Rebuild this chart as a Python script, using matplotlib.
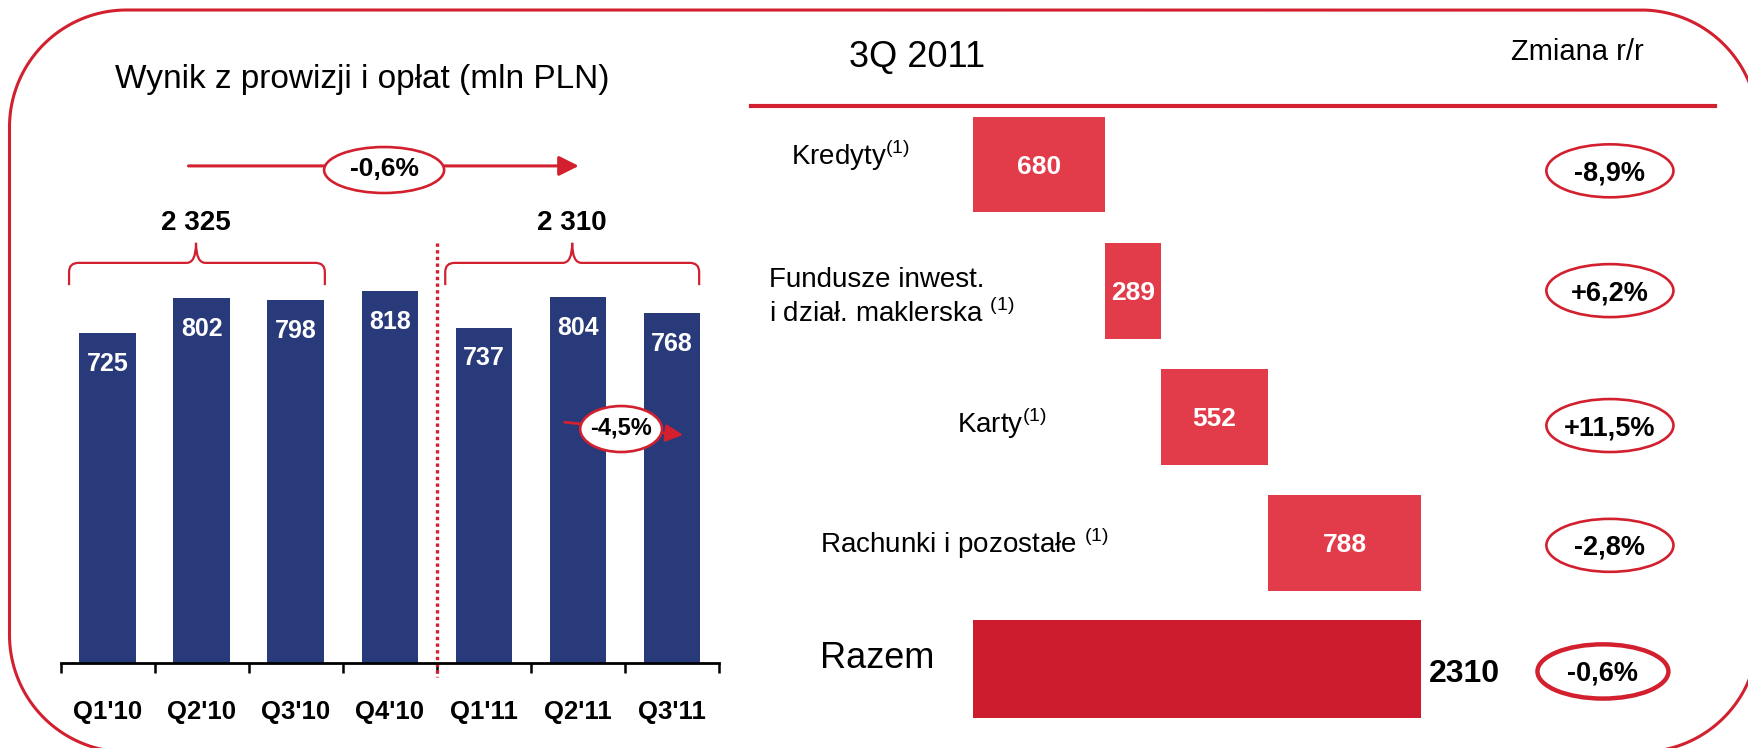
import numpy as np
import matplotlib.pyplot as plt
from matplotlib.patches import Ellipse, PathPatch
from matplotlib.path import Path

plt.rcParams['font.family'] = ['Liberation Sans', 'DejaVu Sans']
plt.rcParams['mathtext.fontset'] = 'custom'
plt.rcParams['mathtext.rm'] = 'Liberation Sans'

# left chart data
quarters = ["Q1'10", "Q2'10", "Q3'10", "Q4'10", "Q1'11", "Q2'11", "Q3'11"]
quarterly = [725, 802, 798, 818, 737, 804, 768]
total_2010 = "2 325"
total_2011 = "2 310"
change_total = "-0,6%"
change_qoq = "-4,5%"

# right chart data
segments = ["Kredyty", "Fundusze inwest.", "Karty", "Rachunki i pozostałe"]
segment_values = [680, 289, 552, 788]
segment_total = 2310
segment_changes = ["-8,9%", "+6,2%", "+11,5%", "-2,8%"]
total_change = "-0,6%"

NAVY = "#283a7a"
RED = "#d2202f"
BAR_RED = "#e23b4a"
TOTAL_RED = "#cd1c2e"

W, H = 1749, 748
fig = plt.figure(figsize=(W / 100, H / 100), dpi=100)

# overlay in pixel coordinates for frame and headings
ov = fig.add_axes([0, 0, 1, 1])
ov.set_xlim(0, W)
ov.set_ylim(H, 0)
ov.axis("off")


def rounded_frame(x0, y0, x1, y1, r):
    corners = [((x0 + r, y0 + r), 180, 270), ((x1 - r, y0 + r), 270, 360),
               ((x1 - r, y1 - r), 0, 90), ((x0 + r, y1 - r), 90, 180)]
    xs, ys = [], []
    for (cx, cy), a0, a1 in corners:
        t = np.radians(np.linspace(a0, a1, 40))
        xs.extend(cx + r * np.cos(t))
        ys.extend(cy + r * np.sin(t))
    xs.append(xs[0])
    ys.append(ys[0])
    return xs, ys


fx, fy = rounded_frame(9.5, 10, 1758, 752, 117)
ov.plot(fx, fy, color=RED, lw=2.2)
ov.text(362, 88, "Wynik z prowizji i opłat (mln PLN)", fontsize=24, ha="center", va="baseline")
ov.text(849, 67, "3Q 2011", fontsize=26, ha="left", va="baseline")
ov.text(1577, 60, "Zmiana r/r", fontsize=21, ha="center", va="baseline")

# ---- left: quarterly bars ----
px_per_unit = 0.4552
ax = fig.add_axes([60.6 / W, (H - 663) / H, 658.3 / W, 563 / H])
ax.patch.set_visible(False)
x = np.arange(len(quarters))
ax.bar(x, quarterly, width=0.6, color=NAVY)
ax.set_xlim(-0.5, 6.5)
ax.set_ylim(0, 563 / px_per_unit)
for s in ["left", "right", "top"]:
    ax.spines[s].set_visible(False)
ax.spines["bottom"].set_linewidth(2.0)
ax.set_yticks([])
ax.set_xticks(np.arange(-0.5, 7, 1))
ax.set_xticklabels([])
ax.tick_params(axis="x", length=7.5, width=1.8, direction="out")
for i, v in enumerate(quarterly):
    ax.text(i, v - 68, str(v), ha="center", va="center", color="white",
            fontsize=18, fontweight="bold")
    ax.text(i, -107, quarters[i], ha="center", va="center", fontsize=18.5,
            fontweight="bold")

# separator between years
ax.plot([3.5, 3.5], [923, -31], ls=(0, (1, 1)), color=RED, lw=2.4, clip_on=False)


def brace(ax, x0, x1, xm, y, ylow, ypeak, rx=0.1, ry=20):
    verts = [(x0, ylow), (x0, y - ry), (x0, y), (x0 + rx, y), (xm - rx, y),
             (xm, y), (xm, ypeak), (xm, y), (xm + rx, y), (x1 - rx, y),
             (x1, y), (x1, y - ry), (x1, ylow)]
    codes = [Path.MOVETO, Path.LINETO, Path.CURVE3, Path.CURVE3, Path.LINETO,
             Path.CURVE3, Path.CURVE3, Path.CURVE3, Path.CURVE3, Path.LINETO,
             Path.CURVE3, Path.CURVE3, Path.LINETO]
    ax.add_patch(PathPatch(Path(verts, codes), fill=False, ec=RED, lw=1.6, clip_on=False))


brace(ax, -0.41, 2.31, 0.94, 879, 830, 923)
brace(ax, 3.59, 6.29, 4.94, 879, 830, 923)
ax.text(0.94, 967, total_2010, ha="center", va="center", fontsize=20, fontweight="bold")
ax.text(4.94, 967, total_2011, ha="center", va="center", fontsize=20, fontweight="bold")

ax.annotate("", xy=(5.01, 1092), xytext=(0.86, 1092), annotation_clip=False,
            arrowprops=dict(arrowstyle="-|>", color=RED, lw=2.2, mutation_scale=30,
                            shrinkA=0, shrinkB=0))
ax.add_patch(Ellipse((2.94, 1083), 1.276, 101, fc="white", ec=RED, lw=1.9,
                     clip_on=False, zorder=5))
ax.text(2.94, 1085, change_total, ha="center", va="center", fontsize=19,
        fontweight="bold", zorder=6)

ax.annotate("", xy=(6.12, 501), xytext=(4.86, 529), annotation_clip=False,
            arrowprops=dict(arrowstyle="-|>", color=RED, lw=2.0, mutation_scale=26,
                            shrinkA=0, shrinkB=0), zorder=4)
ax.add_patch(Ellipse((5.46, 514), 0.87, 101, fc="white", ec=RED, lw=1.9,
                     clip_on=False, zorder=5))
ax.text(5.46, 516, change_qoq, ha="center", va="center", fontsize=17,
        fontweight="bold", zorder=6)

# ---- right: waterfall ----
ax2 = fig.add_axes([751 / W, 0, 964 / W, 642 / H])
ax2.patch.set_visible(False)
ax2.set_xlim(-1144.3, 3824.7)
ax2.set_ylim(4.627, -0.464)
for s in ["left", "right", "bottom"]:
    ax2.spines[s].set_visible(False)
ax2.spines["top"].set_color(RED)
ax2.spines["top"].set_linewidth(3)
ax2.set_xticks([])
ax2.set_yticks([])

lefts = np.concatenate([[0], np.cumsum(segment_values)[:-1]])
ax2.barh(np.arange(4), segment_values, left=lefts, height=0.76, color=BAR_RED)
ax2.barh(4, segment_total, height=0.78, color=TOTAL_RED)
for i, (v, l) in enumerate(zip(segment_values, lefts)):
    ax2.text(l + v / 2, i + 0.02, str(v), ha="center", va="center", color="white",
             fontsize=19, fontweight="bold")
ax2.text(segment_total + 41, 4.104, str(segment_total), ha="left", va="baseline",
         fontsize=23, fontweight="bold")

sup = r"$^{\rm (1)}$"
ax2.text(-938, 0.0, segments[0] + sup, fontsize=20, ha="left", va="baseline")
ax2.text(-1052, 0.971, segments[1], fontsize=20, ha="left", va="baseline")
ax2.text(-1052, 1.249, "i dział. maklerska " + sup, fontsize=20, ha="left", va="baseline")
ax2.text(-82, 2.129, segments[2] + sup, fontsize=20, ha="left", va="baseline")
ax2.text(-789, 3.08, segments[3] + " " + sup, fontsize=20, ha="left", va="baseline")
ax2.text(-789, 3.993, "Razem", fontsize=26, ha="left", va="baseline")

ell_y = [0.05, 1.0, 2.07, 3.02]
for yy, lab in zip(ell_y, segment_changes):
    ax2.add_patch(Ellipse((3283, yy), 655, 0.42, fc="white", ec=RED, lw=1.9, clip_on=False))
    ax2.text(3283, yy + 0.02, lab, ha="center", va="center", fontsize=19.5, fontweight="bold")
ax2.add_patch(Ellipse((3247, 4.02), 675, 0.43, fc="white", ec=RED, lw=3.2, clip_on=False))
ax2.text(3247, 4.04, total_change, ha="center", va="center", fontsize=19.5, fontweight="bold")

fig.savefig("out.png", dpi=100)
